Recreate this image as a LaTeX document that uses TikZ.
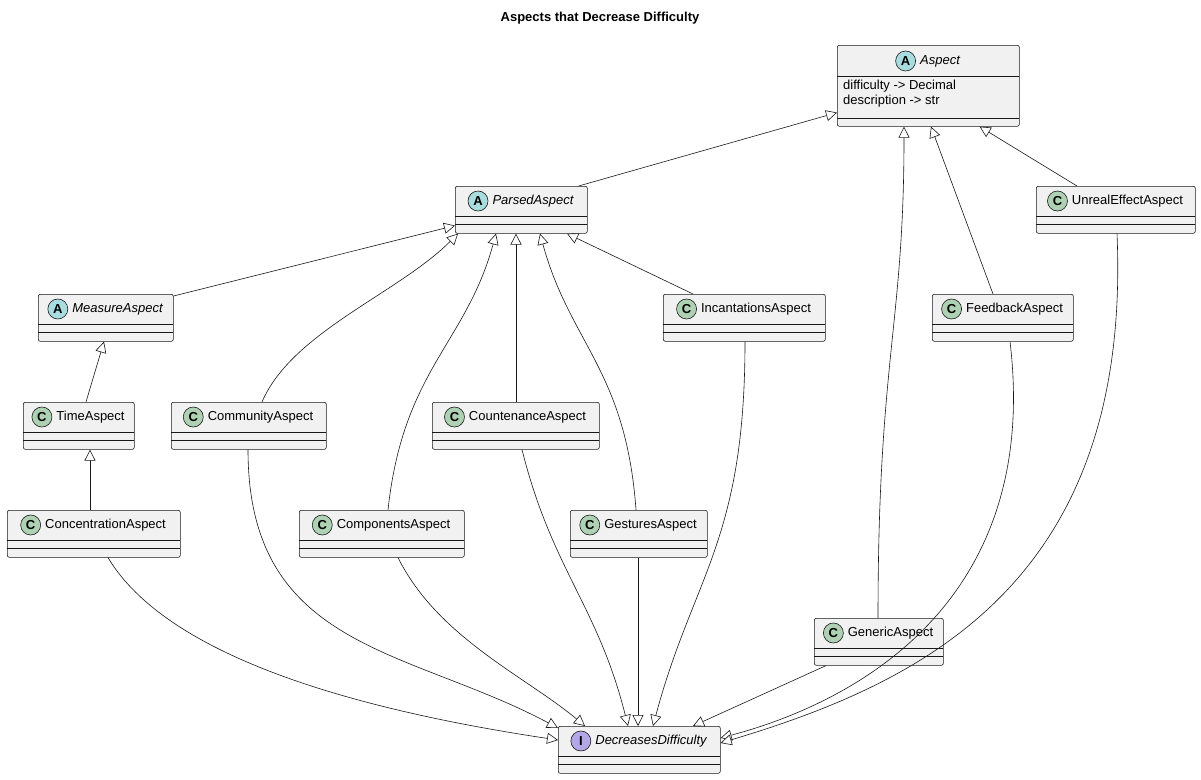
\documentclass[tikz,border=0pt]{standalone}
\usepackage{fontspec}
\setmainfont{Liberation Sans}
\usetikzlibrary{arrows.meta,calc,positioning}
\definecolor{boxfill}{HTML}{F1F1F1}
\definecolor{boxline}{HTML}{181818}
\definecolor{iconA}{HTML}{A9DCDF}
\definecolor{iconC}{HTML}{ADD1B2}
\definecolor{iconI}{HTML}{B4A7E5}
\tikzset{
  umlbox/.style={draw=boxline,fill=boxfill,rounded corners=2pt,line width=0.6pt,inner sep=0pt,anchor=north west},
  icon/.style={circle,draw=boxline,line width=0.6pt,inner sep=0pt,minimum size=20pt,font=\fontsize{13}{13}\selectfont\bfseries},
  titletext/.style={inner sep=0pt,font=\fontsize{13}{15}\selectfont},
  inh/.style={draw=boxline,line width=0.6pt,-{Triangle[open,length=11pt,width=11pt,fill=white]}},
}
\newcommand\cls[8]{%
  \node[umlbox,minimum width={#4pt-#2pt},minimum height={#5pt-#3pt}] (#1) at (#2,#3) {};
  \draw[boxline,line width=0.6pt] (#2,#3+30) -- (#4,#3+30);
  \draw[boxline,line width=0.6pt] (#2,#3+38) -- (#4,#3+38);
  \node[titletext] (#1-t) at ({(#2+#4)/2+12},#3+15) {#8};
  \node[icon,fill=#7,left=4pt of #1-t] (#1-i) {#6};
}
\begin{document}
\begin{tikzpicture}[x=1pt,y=-1pt]
\useasboundingbox (0,0) rectangle (1201,779);
\node[font=\fontsize{13}{15}\selectfont\bfseries] (title) at (600,18) {Aspects that Decrease Difficulty};
% Aspect
\node[umlbox,minimum width=182pt,minimum height=81pt] (Aspect) at (837,45) {};
\draw[boxline,line width=0.6pt] (837,76) -- (1019,76);
\draw[boxline,line width=0.6pt] (837,118) -- (1019,118);
\node[titletext] (Aspect-t) at (940,61) {\itshape Aspect};
\node[icon,fill=iconA,left=4pt of Aspect-t] (Aspect-i) {A};
\node[titletext,anchor=north west,align=left] (Aspect-a) at (843,80) {difficulty -> Decimal\\description -> str};
\cls{Parsed}{455}{186}{587}{233}{A}{iconA}{\itshape ParsedAspect}
\cls{Unreal}{1036}{186}{1195}{233}{C}{iconC}{UnrealEffectAspect}
\cls{Measure}{38}{294}{173}{341}{A}{iconA}{\itshape MeasureAspect}
\cls{Incant}{663}{294}{825}{341}{C}{iconC}{IncantationsAspect}
\cls{Feedback}{932}{294}{1073}{341}{C}{iconC}{FeedbackAspect}
\cls{Time}{23}{402}{134}{449}{C}{iconC}{TimeAspect}
\cls{Community}{171}{402}{326}{449}{C}{iconC}{CommunityAspect}
\cls{Countenance}{432}{402}{599}{449}{C}{iconC}{CountenanceAspect}
\cls{Concentration}{7}{510}{180}{557}{C}{iconC}{ConcentrationAspect}
\cls{Components}{299}{510}{464}{557}{C}{iconC}{ComponentsAspect}
\cls{Gestures}{570}{510}{707}{557}{C}{iconC}{GesturesAspect}
\cls{Generic}{814}{618}{943}{665}{C}{iconC}{GenericAspect}
\cls{DD}{558}{726}{720}{773}{I}{iconI}{\itshape DecreasesDifficulty}
% inheritance to Aspect
\draw[inh] ($(Parsed.north east)+(-9,0)$) -- ($(Aspect.south west)+(0,-14)$);
\draw[inh] ($(Unreal.north west)+(41,0)$) -- ($(Aspect.south east)+(-40,0)$);
\draw[inh] ($(Generic.north west)+(64,0)$) .. controls +(0,-260) and +(0,200) .. ($(Aspect.south west)+(67,0)$);
\draw[inh] ($(Feedback.north west)+(61,0)$) -- ($(Aspect.south west)+(94,0)$);
% to Parsed
\draw[inh] ($(Measure.north east)+(0,2)$) -- ($(Parsed.south west)+(0,-8)$);
\draw[inh] ($(Community.north west)+(91,0)$) .. controls +(30,-70) and +(-60,60) .. ($(Parsed.south west)+(3,0)$);
\draw[inh] ($(Components.north west)+(89,0)$) .. controls +(15,-140) and +(-30,110) .. ($(Parsed.south west)+(41,0)$);
\draw[inh] ($(Countenance.north west)+(84,0)$) -- ($(Parsed.south west)+(61,0)$);
\draw[inh] ($(Gestures.north west)+(66,0)$) .. controls +(-10,-140) and +(30,110) .. ($(Parsed.south west)+(85,0)$);
\draw[inh] ($(Incant.north west)+(30,0)$) -- ($(Parsed.south west)+(112,0)$);
% chain
\draw[inh] ($(Time.north west)+(63,0)$) -- ($(Measure.south west)+(66,0)$);
\draw[inh] ($(Concentration.north west)+(83,0)$) -- ($(Time.south west)+(67,0)$);
% to DD
\draw[inh] ($(Concentration.south west)+(101,0)$) .. controls +(60,100) and +(-200,-30) .. ($(DD.north west)+(0,14)$);
\draw[inh] ($(Community.south west)+(77,0)$) .. controls +(0,200) and +(-150,-80) .. ($(DD.north west)+(0,2)$);
\draw[inh] ($(Components.south west)+(99,0)$) .. controls +(40,80) and +(-60,-50) .. ($(DD.north west)+(27,0)$);
\draw[inh] ($(Countenance.south west)+(90,0)$) .. controls +(30,120) and +(-30,-120) .. ($(DD.north west)+(70,0)$);
\draw[inh] ($(Gestures.south west)+(68,0)$) -- ($(DD.north west)+(80,0)$);
\draw[inh] ($(Incant.south west)+(82,0)$) .. controls +(0,200) and +(40,-150) .. ($(DD.north west)+(95,0)$);
\draw[inh] ($(Generic.south west)+(12,0)$) -- ($(DD.north west)+(135,0)$);
\draw[inh] ($(Feedback.south west)+(78,0)$) .. controls +(30,250) and +(150,-40) .. ($(DD.north east)+(0,12)$);
\draw[inh] ($(Unreal.south west)+(81,0)$) .. controls +(15,350) and +(200,-60) .. ($(DD.north east)+(0,17)$);
\end{tikzpicture}
\end{document}
